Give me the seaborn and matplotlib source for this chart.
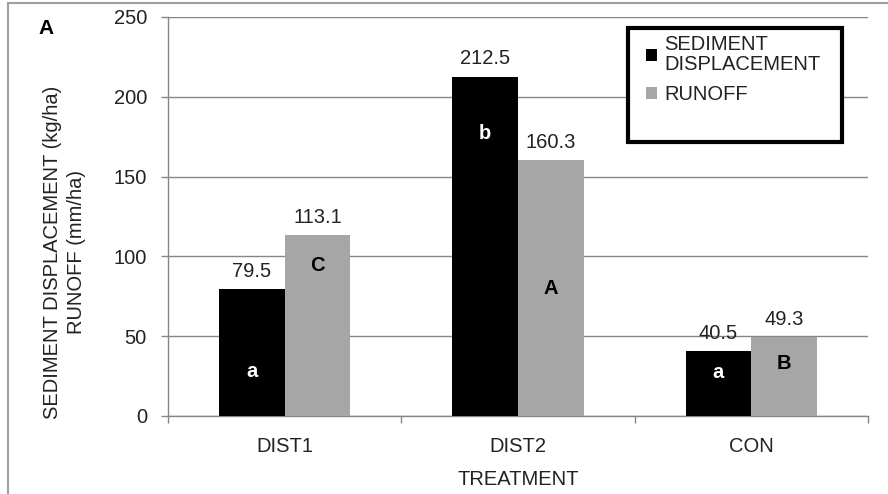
import pandas as pd
import seaborn as sns
import matplotlib.pyplot as plt
from matplotlib.patches import Patch, Rectangle
from matplotlib.lines import Line2D

# Chart data
treatments = ["DIST1", "DIST2", "CON"]
sediment = [79.5, 212.5, 40.5]
runoff = [113.1, 160.3, 49.3]
sediment_letters = ["a", "b", "a"]
runoff_letters = ["C", "A", "B"]
sediment_letter_y = [28, 177, 27]
runoff_letter_y = [94, 80, 33]
series_names = ["SEDIMENT\nDISPLACEMENT", "RUNOFF"]
y_ticks = [0, 50, 100, 150, 200, 250]

df = pd.DataFrame({
    "treatment": treatments * 2,
    "value": sediment + runoff,
    "series": [series_names[0]] * len(treatments) + [series_names[1]] * len(treatments),
})

sns.set_theme(style="white")
plt.rcParams["font.family"] = ["Liberation Sans", "DejaVu Sans"]

grey = "#868686"
text_col = "#222222"
palette = ["#000000", "#a6a6a6"]
fs = 14.5

fig = plt.figure(figsize=(8.88, 4.94), dpi=100)
ax = fig.add_axes([0.189, 0.158, 0.7885, 0.8077])

sns.barplot(data=df, x="treatment", y="value", hue="series", palette=palette,
            width=0.564, gap=0, errorbar=None, saturation=1, legend=False,
            linewidth=0, edgecolor="none", ax=ax, zorder=3)

# Axes styling
ax.set_ylim(0, 250)
ax.set_yticks(y_ticks)
ax.set_axisbelow(True)
ax.yaxis.grid(True, color=grey, lw=1)
ax.xaxis.grid(False)
for side in ["top", "right"]:
    ax.spines[side].set_visible(False)
for side in ["left", "bottom"]:
    ax.spines[side].set_color(grey)
    ax.spines[side].set_linewidth(1)

ax.tick_params(axis="y", left=True, length=5, width=1, color=grey, pad=10,
               labelsize=fs, labelcolor=text_col)
ax.set_xticks([-0.5, 0.5, 1.5, 2.5], minor=True)
ax.tick_params(axis="x", which="major", length=0, pad=15, labelsize=fs,
               labelcolor=text_col)
ax.tick_params(axis="x", which="minor", bottom=True, length=5, width=1, color=grey)

# Value labels above bars
for container, vals in zip(ax.containers, [sediment, runoff]):
    ax.bar_label(container, labels=[f"{v:.1f}" for v in vals], padding=6,
                 fontsize=fs, color=text_col)

# Significance letters inside bars
for container, letters, ys, col in zip(ax.containers,
                                       [sediment_letters, runoff_letters],
                                       [sediment_letter_y, runoff_letter_y],
                                       ["white", "black"]):
    for rect, letter, yy in zip(container, letters, ys):
        ax.text(rect.get_x() + rect.get_width() / 2, yy, letter, ha="center",
                va="center", fontsize=fs, fontweight="bold", color=col, zorder=4)

# Legend with a thick box
box = Rectangle((0.657, 0.687), 0.306, 0.285, transform=ax.transAxes,
                facecolor="white", edgecolor="black", lw=3, zorder=5, clip_on=False)
ax.add_patch(box)
handles = [Patch(facecolor=c, edgecolor="none") for c in palette]
leg = ax.legend(handles, series_names, loc="upper left", bbox_to_anchor=(0.683, 0.955),
                frameon=False, fontsize=fs, handlelength=0.55, handleheight=0.55,
                handletextpad=0.35, labelspacing=0.55, borderpad=0, borderaxespad=0)
leg.set_zorder(6)
for t in leg.get_texts():
    t.set_color(text_col)
    t.set_linespacing(1.05)

# Axis labels
ax.set_ylabel("SEDIMENT DISPLACEMENT (kg/ha)\nRUNOFF (mm/ha)", fontsize=fs,
              linespacing=1.35, color=text_col)
ax.yaxis.set_label_coords(-0.117, 0.411)
ax.set_xlabel("TREATMENT", fontsize=fs, color=text_col)
ax.xaxis.set_label_coords(0.5, -0.135)

fig.text(46 / 888, 1 - 28 / 494, "A", ha="center", va="center",
         fontsize=15, fontweight="bold", color="black")

# Outer frame lines (top and left only)
fig.add_artist(Line2D([8 / 888, 8 / 888], [0, 1 - 3 / 494], transform=fig.transFigure,
                      color="#a0a0a0", lw=1.5))
fig.add_artist(Line2D([8 / 888, 1], [1 - 3 / 494, 1 - 3 / 494], transform=fig.transFigure,
                      color="#a0a0a0", lw=1.5))

fig.savefig("out.png", dpi=100)
